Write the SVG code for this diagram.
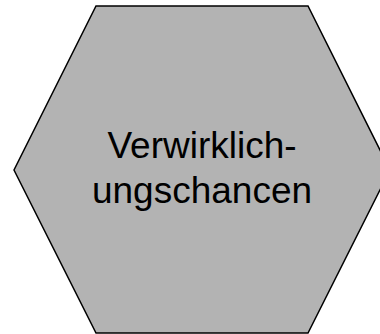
<svg xmlns="http://www.w3.org/2000/svg" width="380" height="334" viewBox="0 0 380 334">
<style>
.hex{fill:#b3b3b3;stroke:#000;stroke-width:1.5;stroke-linejoin:miter}
.lbl{font-family:"Liberation Sans",Arial,sans-serif;font-size:37px;fill:#000;text-anchor:middle}
</style>
<rect width="380" height="334" fill="#fff"/>
<g id="node-verwirklichungschancen">
<polygon class="hex" points="96,6 308,6 390,170 308,333 96,333 14,170"/>
<text class="lbl" x="202" y="158">Verwirklich-</text>
<text class="lbl" x="202" y="203">ungschancen</text>
</g>
<g id="connectors"/>
</svg>
